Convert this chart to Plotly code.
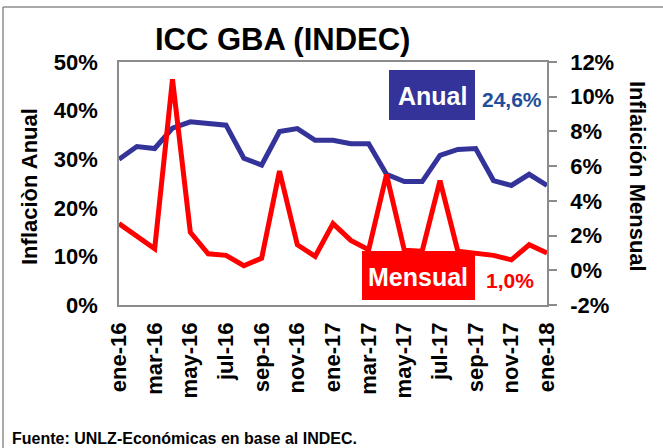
import plotly.graph_objects as go

months = ["ene-16","feb-16","mar-16","abr-16","may-16","jun-16","jul-16","ago-16","sep-16","oct-16","nov-16","dic-16",
          "ene-17","feb-17","mar-17","abr-17","may-17","jun-17","jul-17","ago-17","sep-17","oct-17","nov-17","dic-17","ene-18"]
anual = [30.0, 32.6, 32.2, 36.4, 37.7, 37.4, 37.0, 30.2, 28.8, 35.7, 36.3, 33.9,
         33.9, 33.2, 33.2, 26.9, 25.4, 25.4, 30.8, 32.0, 32.2, 25.6, 24.6, 26.9, 24.6]
mensual = [2.69, 2.0, 1.24, 11.0, 2.19, 0.95, 0.86, 0.26, 0.70, 5.72, 1.47, 0.80,
           2.69, 1.72, 1.18, 5.52, 1.15, 1.1, 5.17, 1.1, 0.95, 0.86, 0.6, 1.47, 1.0]
tick_labels = months[::2]
left_ticks = [0, 10, 20, 30, 40, 50]
right_ticks = [-2, 0, 2, 4, 6, 8, 10, 12]

W, H = 663, 448
L, R, T, B = 119, 547, 62, 305

def px(x):
    return (x - L) / (R - L)

def py(y):
    return (B - y) / (B - T)

FAM = "Liberation Sans, Arial, sans-serif"

def f(size, color="black"):
    return dict(family=FAM, size=size, color=color, weight="bold")

fig = go.Figure()
fig.add_trace(go.Scatter(x=months, y=anual, mode="lines",
                         line=dict(color="#333399", width=5), name="Anual", yaxis="y"))
fig.add_trace(go.Scatter(x=months, y=mensual, mode="lines",
                         line=dict(color="#FF0000", width=5), name="Mensual", yaxis="y2"))

fig.update_layout(
    width=W, height=H,
    margin=dict(l=L, r=W - R, t=T, b=H - B),
    paper_bgcolor="white", plot_bgcolor="white",
    showlegend=False,
    xaxis=dict(type="category", tickvals=tick_labels, ticktext=tick_labels, tickangle=-90,
               showline=True, linecolor="#8c8c8c", linewidth=1.5, mirror=True,
               ticks="", showgrid=False, ticklabelstandoff=7, automargin=False,
               tickfont=f(22)),
    yaxis=dict(range=[0, 50], tickvals=left_ticks, ticktext=[f"{v}%" for v in left_ticks],
               showline=True, linecolor="#8c8c8c", linewidth=1.5, mirror=True,
               ticks="", showgrid=False, zeroline=False, ticklabelstandoff=15, automargin=False,
               tickfont=f(22)),
    yaxis2=dict(range=[-2, 12], tickvals=right_ticks, ticktext=[f"{v}%" for v in right_ticks],
                overlaying="y", side="right",
                showline=True, linecolor="#8c8c8c", linewidth=1.5,
                ticks="outside", ticklen=8, tickcolor="#8c8c8c", tickwidth=1.5,
                showgrid=False, zeroline=False, ticklabelstandoff=9, automargin=False,
                tickfont=f(22)),
)

shapes = [
    dict(type="rect", xref="paper", yref="paper", x0=px(389), x1=px(475), y0=py(120), y1=py(70),
         fillcolor="#333399", line=dict(width=0), layer="above"),
    dict(type="rect", xref="paper", yref="paper", x0=px(362), x1=px(475), y0=py(300), y1=py(251),
         fillcolor="#FF0000", line=dict(width=0), layer="above"),
    dict(type="line", xref="paper", yref="paper", x0=px(3), x1=px(3), y0=py(450), y1=py(7),
         line=dict(color="#8c8c8c", width=1.5)),
    dict(type="line", xref="paper", yref="paper", x0=px(3), x1=px(665), y0=py(7), y1=py(7),
         line=dict(color="#8c8c8c", width=1.5)),
]
fig.update_layout(shapes=shapes)

ann = [
    dict(text="ICC GBA (INDEC)", x=px(282), y=py(40), font=f(31)),
    dict(text="Anual", x=px(432), y=py(96), font=f(25, "white")),
    dict(text="24,6%", x=px(512), y=py(99), font=f(21, "#1f4e9c")),
    dict(text="Mensual", x=px(418), y=py(277), font=f(25, "white")),
    dict(text="1,0%", x=px(510), y=py(280), font=f(21, "#FF0000")),
    dict(text="Inflaciòn Anual", x=px(29), y=py(187), textangle=-90, font=f(22)),
    dict(text="Inflaición Mensual", x=px(638), y=py(176), textangle=90, font=f(22)),
    dict(text="Fuente: UNLZ-Económicas en base al INDEC.", x=px(10), y=py(438), xanchor="left",
         font=f(16)),
]
for a in ann:
    a.setdefault("xanchor", "center")
    a.update(xref="paper", yref="paper", yanchor="middle", showarrow=False)
fig.update_layout(annotations=ann)

fig.write_html("out.html", config={"displayModeBar": False},
               post_script="document.body.style.margin='0px';")
